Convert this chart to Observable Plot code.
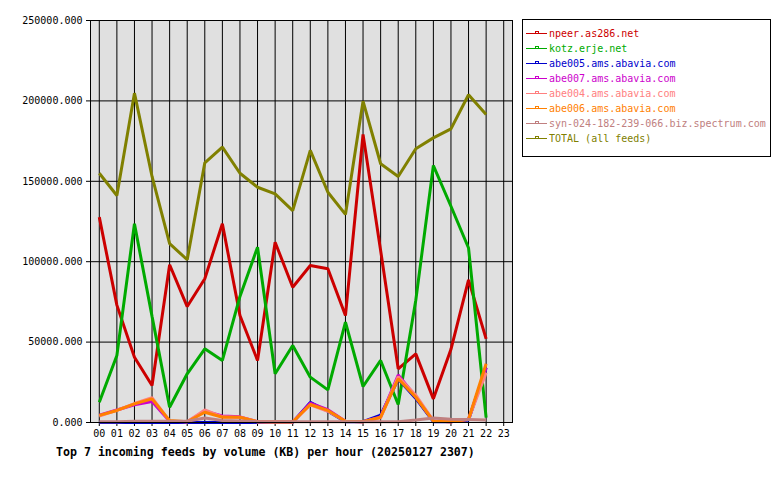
<!DOCTYPE html>
<html>
<head>
<meta charset="utf-8">
<script src="https://cdn.jsdelivr.net/npm/d3@7"></script>
<script src="https://cdn.jsdelivr.net/npm/@observablehq/plot@0.6"></script>
<style>
  html, body { margin: 0; padding: 0; background: #fff; }
  #wrap { position: relative; width: 780px; height: 480px; }
  #title { position: absolute; left: 56px; top: 445px; font: bold 11.6px "DejaVu Sans Mono", monospace; white-space: pre; color: #000; }
  #legend { position: absolute; left: 522px; top: 19px; width: 247px; height: 130px; border: 1px solid #000; background: #fff; padding-top: 6px; box-sizing: content-box; }
  .row { height: 15px; line-height: 15px; font: 10px "DejaVu Sans Mono", monospace; white-space: pre; display: flex; align-items: center; }
  .row svg { display: block; margin-right: 2px; }
</style>
</head>
<body>
<div id="wrap"></div>
<script>
const hours = d3.range(0, 23);
const tickHours = d3.range(0, 24);
const yTicks = [0, 50000, 100000, 150000, 200000, 250000];

const feeds = ["npeer.as286.net", "kotz.erje.net", "abe005.ams.abavia.com", "abe007.ams.abavia.com", "abe004.ams.abavia.com", "abe006.ams.abavia.com", "syn-024-182-239-066.biz.spectrum.com", "TOTAL (all feeds)"];
const colors = ["#cc0000", "#00aa00", "#0000cc", "#cc00cc", "#ff8080", "#ff8000", "#c08080", "#808000"];

const npeer  = [127700, 73000, 40600, 23000, 98100, 72100, 89400, 123600, 66500, 38600, 112100, 84100, 97600, 95600, 66500, 179100, 107000, 33400, 42700, 14700, 45500, 88700, 52000];
const kotz   = [12600, 41700, 123600, 66000, 9500, 30300, 45800, 38600, 78400, 109000, 30300, 47900, 28200, 20300, 62400, 22400, 38600, 11200, 76000, 159800, 134500, 108500, 3000];
const abe005 = [0, 0, 0, 0, 0, 0, 0, 0, 0, 0, 0, 0, 12500, 7000, 500, 500, 4500, 27000, 15000, 500, 500, 1500, 34000];
const abe007 = [4600, 7800, 11000, 13000, 800, 500, 7000, 4000, 3500, 500, 300, 300, 12000, 8000, 800, 500, 3500, 29500, 16000, 1000, 500, 2000, 34000];
const abe004 = [4000, 7500, 11800, 15500, 800, 500, 7800, 3500, 3300, 500, 300, 300, 11000, 7000, 800, 500, 3000, 28500, 17000, 1000, 500, 2000, 31000];
const abe006 = [4400, 7500, 11600, 14700, 1200, 500, 6400, 3300, 3300, 500, 300, 300, 11200, 7500, 800, 500, 3300, 27200, 15700, 800, 500, 2000, 36500];
const syn    = [500, 500, 800, 800, 800, 800, 2800, 1200, 1000, 500, 500, 500, 500, 500, 500, 500, 500, 500, 1500, 2800, 2000, 1800, 1500];
const total  = [155000, 141200, 204800, 153000, 111300, 101200, 161500, 171200, 155000, 146300, 142200, 131800, 169200, 143200, 129400, 199800, 160900, 153000, 170200, 177000, 182600, 203800, 191500];

const titleText = "Top 7 incoming feeds by volume (KB) per hour (20250127 2307)";

const seriesValues = [npeer, kotz, abe005, abe007, abe004, abe006, syn, total];
const rows = [];
feeds.forEach((f, k) => hours.forEach((h, i) => rows.push({hour: h, value: seriesValues[k][i], feed: f})));

const chart = Plot.plot({
  width: 780,
  height: 480,
  marginLeft: 90,
  marginRight: 268,
  marginTop: 20,
  marginBottom: 58,
  style: {fontFamily: "DejaVu Sans Mono", fontSize: "10px", color: "#000", background: "#fff"},
  x: {type: "linear", domain: [-0.5, 23.5]},
  y: {domain: [0, 250000]},
  color: {domain: feeds, range: colors},
  marks: [
    Plot.frame({fill: "#e0e0e0"}),
    Plot.gridX(tickHours, {stroke: "#000", strokeOpacity: 1, strokeWidth: 1}),
    Plot.gridY(yTicks, {stroke: "#000", strokeOpacity: 1, strokeWidth: 1}),
    Plot.axisX(tickHours, {tickFormat: d3.format("02d"), tickSize: 4, tickPadding: 3, label: null, fontSize: 10}),
    Plot.axisY(yTicks, {tickFormat: d => d.toFixed(3), tickSize: 4, tickPadding: 4, label: null, fontSize: 10}),
    Plot.line(rows, {x: "hour", y: "value", z: "feed", stroke: "feed", strokeWidth: 3, strokeLinejoin: "miter", strokeLinecap: "butt"}),
    Plot.frame({stroke: "#000", strokeWidth: 1})
  ]
});

const wrap = document.getElementById("wrap");
wrap.appendChild(chart);

const title = document.createElement("div");
title.id = "title";
title.textContent = titleText;
wrap.appendChild(title);

const legend = document.createElement("div");
legend.id = "legend";
feeds.forEach((f, k) => {
  const row = document.createElement("div");
  row.className = "row";
  const ns = "http://www.w3.org/2000/svg";
  const s = document.createElementNS(ns, "svg");
  s.setAttribute("width", 24); s.setAttribute("height", 15);
  const ln = document.createElementNS(ns, "line");
  ln.setAttribute("x1", 3); ln.setAttribute("x2", 24); ln.setAttribute("y1", 7.5); ln.setAttribute("y2", 7.5);
  ln.setAttribute("stroke", colors[k]); ln.setAttribute("stroke-width", 1);
  const r = document.createElementNS(ns, "rect");
  r.setAttribute("x", 12.5); r.setAttribute("y", 5.5); r.setAttribute("width", 3); r.setAttribute("height", 2);
  r.setAttribute("fill", "none"); r.setAttribute("stroke", colors[k]); r.setAttribute("stroke-width", 1);
  s.appendChild(ln); s.appendChild(r);
  const t = document.createElement("span");
  t.textContent = f;
  t.style.color = colors[k];
  row.appendChild(s); row.appendChild(t);
  legend.appendChild(row);
});
wrap.appendChild(legend);
</script>
</body>
</html>
